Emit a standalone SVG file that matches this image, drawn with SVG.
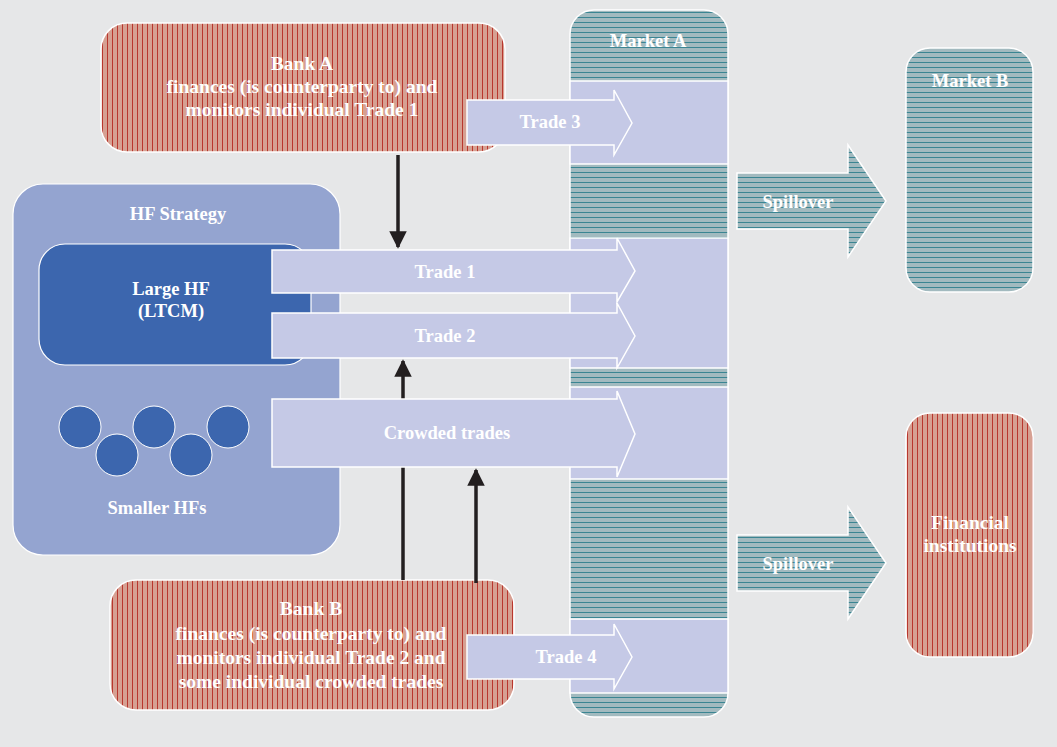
<svg xmlns="http://www.w3.org/2000/svg" width="1057" height="747" viewBox="0 0 1057 747">
<defs>
<pattern id="red" width="5" height="10" patternUnits="userSpaceOnUse">
<rect width="5" height="10" fill="#d6a092"/>
<rect x="2" width="1" height="10" fill="#b9362d"/>
</pattern>
<pattern id="teal" width="10" height="5" patternUnits="userSpaceOnUse">
<rect width="10" height="5" fill="#a2babf"/>
<rect y="2" width="10" height="1" fill="#3a8592"/>
</pattern>
<marker id="ah" viewBox="0 0 10 10" refX="9" refY="5" markerWidth="5" markerHeight="5" orient="auto" markerUnits="strokeWidth">
<path d="M0,0 L10,5 L0,10 z" fill="#231f20"/>
</marker>
<style>
text{font-family:"Liberation Serif","Times New Roman",serif;font-weight:bold;fill:#fff;text-anchor:middle;font-size:18.5px}
.big{font-size:19.5px}
.bank{fill:url(#red);stroke:#fff;stroke-width:1.5}
.mkt{fill:url(#teal);stroke:#fff;stroke-width:1.5}
.lav{fill:#c5c9e6;stroke:#fff;stroke-width:1.5}
.conn{stroke:#231f20;stroke-width:3.5;fill:none;marker-end:url(#ah)}
</style>
</defs>
<rect width="1057" height="747" fill="#e6e7e8"/>

<g id="hf-strategy">
<rect x="13" y="184" width="327" height="371" rx="30" fill="#94a4d0" stroke="#fff" stroke-width="1.2"/>
<text x="178" y="220">HF Strategy</text>
</g>
<g id="large-hf">
<rect x="39" y="244" width="272" height="121" rx="26" fill="#3c66ae" stroke="#fff" stroke-width="1.2"/>
<text x="171" y="295">Large HF</text>
<text x="171" y="317">(LTCM)</text>
</g>
<g id="smaller-hfs">
<g fill="#3c66ae" stroke="#fff" stroke-width="1">
<circle cx="80" cy="427" r="21"/>
<circle cx="117" cy="455" r="21"/>
<circle cx="154" cy="427" r="21"/>
<circle cx="191" cy="455" r="21"/>
<circle cx="228" cy="427" r="21"/>
</g>
<text x="157" y="514">Smaller HFs</text>
</g>

<g id="market-a">
<rect x="570" y="10" width="158" height="707" rx="24" class="mkt"/>
<rect x="570" y="81" width="158" height="83" class="lav"/>
<rect x="570" y="238" width="158" height="130" class="lav"/>
<rect x="570" y="387" width="158" height="92" class="lav"/>
<rect x="570" y="619" width="158" height="74" class="lav"/>
<text x="648" y="47">Market A</text>
</g>

<g id="bank-a">
<rect x="101" y="23" width="404" height="129" rx="26" class="bank"/>
<text class="big" x="302" y="70">Bank A</text>
<text class="big" x="302" y="93">finances (is counterparty to) and</text>
<text class="big" x="302" y="116">monitors individual Trade 1</text>
</g>
<g id="bank-b">
<rect x="110" y="580" width="404" height="130" rx="26" class="bank"/>
<text class="big" x="311" y="615">Bank B</text>
<text class="big" x="311" y="640">finances (is counterparty to) and</text>
<text class="big" x="311" y="664">monitors individual Trade 2 and</text>
<text class="big" x="311" y="688">some individual crowded trades</text>
</g>

<g id="market-b">
<rect x="906" y="48" width="127" height="244" rx="24" class="mkt"/>
<text x="970" y="87">Market B</text>
</g>
<g id="financial-institutions">
<rect x="906" y="413" width="127" height="244" rx="24" class="bank"/>
<text class="big" x="970" y="529">Financial</text>
<text class="big" x="970" y="552">institutions</text>
</g>

<g id="connectors">
<line x1="398" y1="155" x2="398" y2="247" class="conn"/>
<line x1="403" y1="580" x2="403" y2="361" class="conn"/>
<line x1="476" y1="583" x2="476" y2="470" class="conn"/>
</g>

<g id="trade-arrows">
<g id="trade-3">
<path d="M467,100 H614 V90 L632,123 L614,155 V145 H467 Z" class="lav"/>
<text x="550" y="128">Trade 3</text>
</g>
<g id="trade-1">
<path d="M272,250 H617 V238 L635,271 L617,302 V293 H272 Z" class="lav"/>
<text x="445" y="278">Trade 1</text>
</g>
<g id="trade-2">
<path d="M272,313 H617 V303 L635,336 L617,368 V358 H272 Z" class="lav"/>
<text x="445" y="342">Trade 2</text>
</g>
<g id="crowded-trades">
<path d="M272,399 H617 V391 L635,434 L617,477 V467 H272 Z" class="lav"/>
<text x="447" y="439">Crowded trades</text>
</g>
<g id="trade-4">
<path d="M467,635 H614 V624 L632,657 L614,689 V679 H467 Z" class="lav"/>
<text x="566" y="663">Trade 4</text>
</g>
</g>

<g id="spillovers">
<g id="spillover-b">
<path d="M737,173 H848 V145 L886,201 L848,257 V229 H737 Z" class="mkt"/>
<text x="798" y="208">Spillover</text>
</g>
<g id="spillover-fi">
<path d="M737,535 H848 V507 L886,563 L848,619 V591 H737 Z" class="mkt"/>
<text x="798" y="570">Spillover</text>
</g>
</g>
</svg>
